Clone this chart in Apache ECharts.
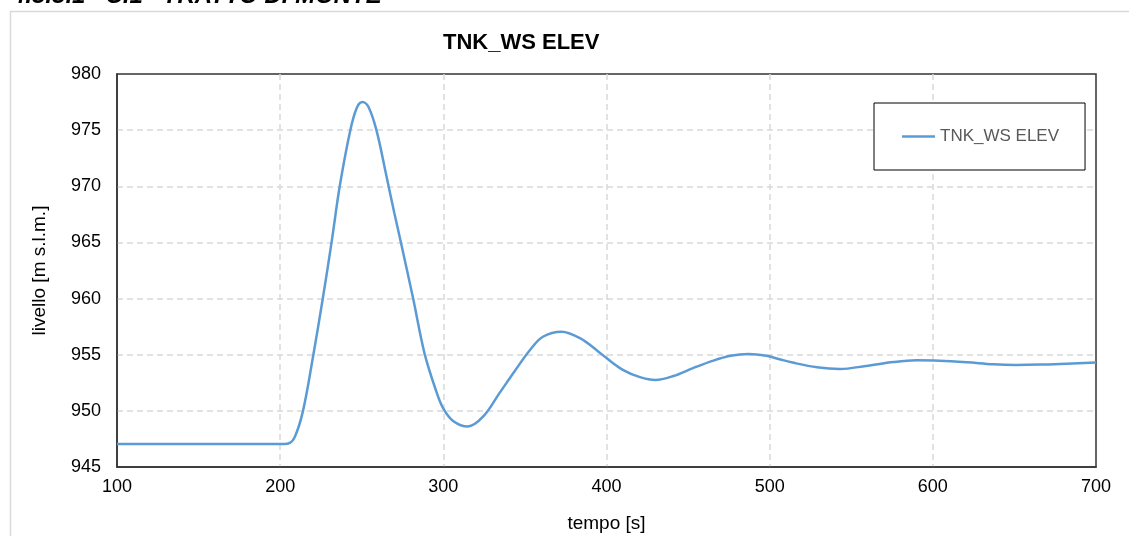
<!DOCTYPE html>
<html>
<head>
<meta charset="utf-8">
<script src="https://cdn.jsdelivr.net/npm/echarts@6/dist/echarts.min.js"></script>
<style>
  html, body { margin: 0; padding: 0; background: #fff; }
  #chart { width: 1129px; height: 536px; }
</style>
</head>
<body>
<div id="chart"></div>
<script>
// values
const tempo = [100, 200, 205, 209, 214, 220, 226, 231.5, 236.5, 243, 247, 250.5, 254, 259, 265, 270,
    274, 281.5, 288.5, 296, 300, 306, 315, 324.5, 334.5, 344, 353, 361, 372.5, 384, 394, 400,
    410, 420.5, 430, 441, 453, 465, 476, 487, 498, 506, 514, 529, 543, 559, 576, 590, 604, 621,
    637, 651, 666, 682, 700];
const livello = [947.05, 947.05, 947.1, 947.7, 950.0, 954.7, 959.9, 965.0, 970.0, 975.0, 977.0, 977.5,
    977.1, 975.0, 971.0, 967.6, 965.0, 960.0, 955.1, 951.6, 950.2, 949.1, 948.6, 949.5, 951.6, 953.6,
    955.4, 956.6, 957.05, 956.45, 955.4, 954.7, 953.65, 953.0, 952.75, 953.1, 953.8, 954.45, 954.9,
    955.07, 954.9, 954.6, 954.3, 953.88, 953.73, 954.0, 954.35, 954.5, 954.47, 954.33, 954.15,
    954.09, 954.12, 954.2, 954.3];
const seriesName = 'TNK_WS ELEV';
const chartTitle = 'TNK_WS ELEV';
const headingText = '4.3.3.1   C.1   TRATTO DI MONTE';

const chart = echarts.init(document.getElementById('chart'));
const font = '"Liberation Sans", Arial, sans-serif';

const points = tempo.map(function (t, i) { return [t, livello[i]]; });

const option = {
    backgroundColor: '#fff',
    animation: false,
    textStyle: { fontFamily: font },
    title: {
        text: chartTitle,
        left: 438,
        top: 27,
        textStyle: { fontSize: 22, fontWeight: 'bold', color: '#000', fontFamily: font }
    },
    graphic: [
        {
            type: 'rect',
            shape: { x: 10.5, y: 11.5, width: 1140, height: 560 },
            style: { fill: 'none', stroke: '#d9d9d9', lineWidth: 1.5 },
            silent: true
        },
        {
            type: 'text',
            left: 12,
            top: -16,
            style: {
                text: headingText,
                font: 'italic bold 24px ' + font,
                fill: '#000'
            },
            silent: true
        }
    ],
    legend: {
        data: [seriesName],
        left: 874,
        top: 103,
        padding: [25, 26, 25, 28],
        borderColor: '#000',
        borderWidth: 1,
        backgroundColor: '#fff',
        icon: 'rect',
        itemWidth: 33,
        itemHeight: 2.5,
        textStyle: { fontSize: 17, color: '#595959', fontFamily: font }
    },
    grid: {
        left: 117,
        right: 33,
        top: 74,
        bottom: 69,
        outerBoundsMode: 'none',
        show: true,
        borderColor: '#333',
        borderWidth: 1.5
    },
    xAxis: {
        type: 'value',
        min: 100,
        max: 700,
        interval: 100,
        name: 'tempo [s]',
        nameLocation: 'middle',
        nameGap: 47,
        nameTextStyle: { fontSize: 19, color: '#000' },
        axisLine: { show: true, lineStyle: { color: '#333', width: 1.5 } },
        axisTick: { show: false },
        axisLabel: { fontSize: 18, color: '#000', margin: 11 },
        splitLine: {
            show: true, showMinLine: false, showMaxLine: false,
            lineStyle: { color: '#d9d9d9', width: 1.5, type: [6, 4] }
        }
    },
    yAxis: {
        type: 'value',
        min: 945,
        max: 980,
        interval: 5,
        name: 'livello [m s.l.m.]',
        nameLocation: 'middle',
        nameGap: 68,
        nameTextStyle: { fontSize: 19, color: '#000' },
        axisLine: { show: true, lineStyle: { color: '#333', width: 1.5 } },
        axisTick: { show: false },
        axisLabel: { fontSize: 18, color: '#000', margin: 16 },
        splitLine: {
            show: true, showMinLine: false, showMaxLine: false,
            lineStyle: { color: '#d9d9d9', width: 1.5, type: [6, 4] }
        }
    },
    series: [
        {
            name: seriesName,
            type: 'line',
            data: points,
            smooth: 0.35,
            showSymbol: false,
            symbol: 'none',
            lineStyle: { color: '#5b9bd5', width: 2.5 },
            itemStyle: { color: '#5b9bd5' }
        }
    ]
};

chart.setOption(option);
</script>
</body>
</html>
